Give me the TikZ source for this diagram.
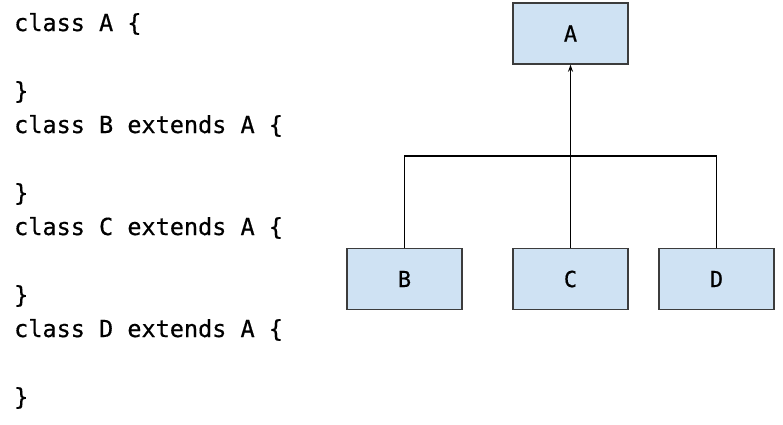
\documentclass[tikz,border=0pt]{standalone}
\usepackage{fontspec}
\newfontfamily\codefont[FakeBold=0.5]{DejaVu Sans Mono}
\usetikzlibrary{arrows.meta}
\definecolor{boxfill}{HTML}{CFE2F3}
\definecolor{boxline}{HTML}{3C3C3C}
\tikzset{
  codeline/.style={anchor=base west, inner sep=0pt, font=\codefont\fontsize{23.5}{28}\selectfont, text=black},
  classbox/.style={draw=boxline, line width=1.4pt, fill=boxfill, minimum width=115pt, minimum height=61pt, inner sep=0pt, font=\codefont\fontsize{22}{26}\selectfont},
  link/.style={draw=black, line width=1.3pt},
  inherit/.style={link, -{Stealth[length=7pt, width=5pt]}}
}
\begin{document}
\begin{tikzpicture}[x=1pt, y=-1pt]
  \useasboundingbox (0,0) rectangle (783,424);
  % source listing
  \node[codeline] (l1) at (14,31) {class A \{};
  \node[codeline] (l2) at (14,99) {\}};
  \node[codeline] (l3) at (14,133) {class B extends A \{};
  \node[codeline] (l4) at (14,201) {\}};
  \node[codeline] (l5) at (14,235) {class C extends A \{};
  \node[codeline] (l6) at (14,303) {\}};
  \node[codeline] (l7) at (14,337) {class D extends A \{};
  \node[codeline] (l8) at (14,405) {\}};
  % class hierarchy
  \node[classbox] (A) at (570.5,33.5) {A};
  \node[classbox] (B) at (404.5,279) {B};
  \node[classbox] (C) at (570.5,279) {C};
  \node[classbox] (D) at (716.5,279) {D};
  \coordinate (bus) at (570.5,156);
  \draw[link] (B.north) |- (bus) -| (D.north);
  \draw[inherit] (C.north) -- (A.south);
\end{tikzpicture}
\end{document}
